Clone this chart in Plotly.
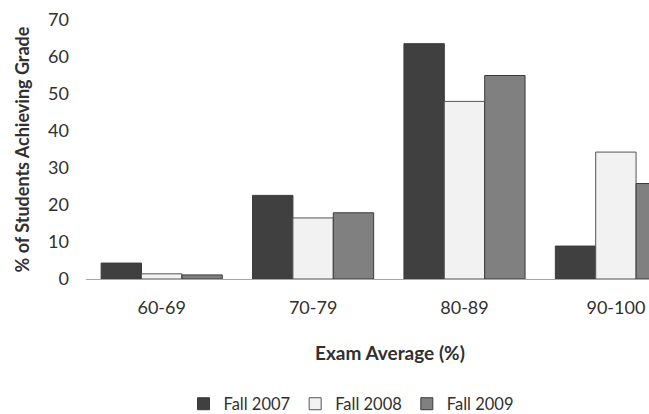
import plotly.graph_objects as go

categories = ["60-69", "70-79", "80-89", "90-100"]
fall_2007 = [4.3, 22.6, 63.6, 8.9]
fall_2008 = [1.4, 16.5, 48.0, 34.3]
fall_2009 = [1.1, 17.9, 55.0, 25.8]
y_ticks = [0, 10, 20, 30, 40, 50, 60, 70]

FONT = "Lato"
TXT = "#303030"
line = dict(color="#3a3a3a", width=1)

fig = go.Figure()
fig.add_bar(name="Fall 2007", x=categories, y=fall_2007, marker=dict(color="#404040", line=line))
fig.add_bar(name="Fall 2008", x=categories, y=fall_2008, marker=dict(color="#f2f2f2", line=dict(color="#555555", width=1)))
fig.add_bar(name="Fall 2009", x=categories, y=fall_2009, marker=dict(color="#808080", line=line))

W, H = 649, 414
L, T, B = 86, 20, 135
pw, ph = W - L, H - T - B
slot = 151.4

fig.update_layout(
    width=W, height=H,
    margin=dict(l=L, r=0, t=T, b=B, autoexpand=False),
    paper_bgcolor="white", plot_bgcolor="white",
    barmode="group", bargap=0.2, bargroupgap=0,
    font=dict(family=FONT, size=17, color=TXT),
    showlegend=True,
    legend=dict(orientation="h", x=(351 - L) / pw, xanchor="center",
                y=(279 - 404) / ph, yanchor="middle",
                font=dict(family=FONT, size=16.5, color=TXT),
                itemwidth=30, traceorder="normal"),
    xaxis=dict(type="category", range=[-0.5, -0.5 + (W - L) / slot], automargin=False,
               showline=True, linecolor="#a6a6a6", linewidth=1,
               ticks="", showgrid=False, zeroline=False,
               ticklabelstandoff=12,
               tickfont=dict(family=FONT, size=18, color=TXT)),
    yaxis=dict(range=[0, 70], tickvals=y_ticks, showline=False, showgrid=False, automargin=False,
               zeroline=False, ticks="", ticklabelstandoff=16,
               tickfont=dict(family=FONT, size=18, color=TXT)),
    annotations=[
        dict(text="<b>Exam Average (%)</b>", xref="paper", yref="paper",
             x=(390 - L) / pw, y=(279 - 352) / ph, xanchor="center", yanchor="middle",
             showarrow=False, font=dict(family=FONT, size=19, color=TXT)),
        dict(text="<b>% of Students Achieving Grade</b>", xref="paper", yref="paper",
             x=(21 - L) / pw, y=0.5, xanchor="center", yanchor="middle", textangle=-90,
             showarrow=False, font=dict(family=FONT, size=18, color=TXT)),
    ],
)

fig.write_html("out.html", config={"displayModeBar": False},
               post_script="document.body.style.margin='0';document.body.style.overflow='hidden';")
